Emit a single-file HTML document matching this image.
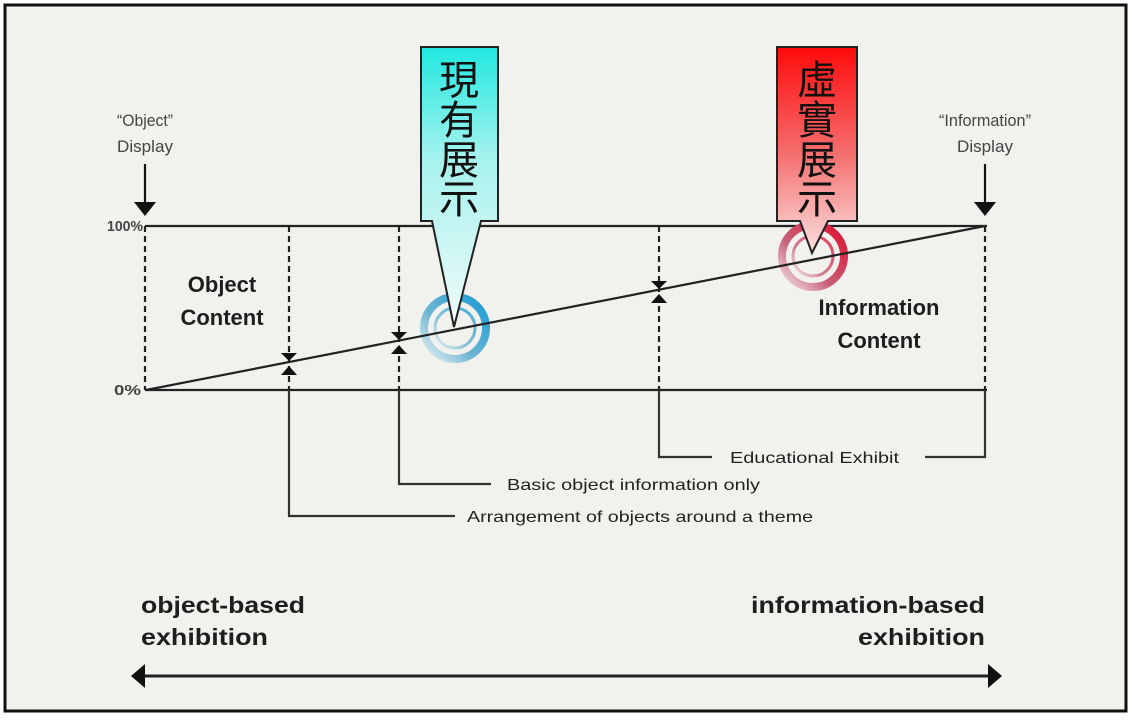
<!DOCTYPE html>
<html><head><meta charset="utf-8"><style>
html,body{margin:0;padding:0;background:#fff;}
svg{display:block;}
text{font-family:"Liberation Sans",sans-serif;}
.b{font-weight:bold;fill:#1e1e1e;}
.s{fill:#222;font-size:16px;}
.cjk{font-family:"Liberation Sans","Noto Sans CJK TC",sans-serif;font-size:40px;fill:#111;}
</style></head><body>
<svg width="1133" height="720" viewBox="0 0 1133 720" xmlns="http://www.w3.org/2000/svg">
<defs>
<linearGradient id="cy" x1="0" y1="0" x2="0" y2="1"><stop offset="0" stop-color="#20e8e0"/><stop offset="0.4" stop-color="#a6f2ee"/><stop offset="1" stop-color="#f0faf9"/></linearGradient>
<linearGradient id="rd" x1="0" y1="0" x2="0" y2="1"><stop offset="0" stop-color="#ff0a0a"/><stop offset="0.5" stop-color="#f56a6a"/><stop offset="1" stop-color="#fae0e0"/></linearGradient>
<linearGradient id="cr" x1="1" y1="0" x2="0" y2="1"><stop offset="0" stop-color="#1a9ad6"/><stop offset="0.6" stop-color="#6fb6d2"/><stop offset="1" stop-color="#e8f2f5"/></linearGradient>
<linearGradient id="rr" x1="1" y1="0" x2="0" y2="1"><stop offset="0" stop-color="#e01030"/><stop offset="0.6" stop-color="#c8607a"/><stop offset="1" stop-color="#f4e4e8"/></linearGradient>
</defs>
<rect x="0" y="0" width="1133" height="720" fill="#fff"/>
<rect x="5" y="5" width="1121" height="706" fill="#f1f2ed" stroke="#111" stroke-width="3"/>

<g stroke="#222" stroke-width="2.2" fill="none">
<line x1="145" y1="226" x2="987" y2="226"/>
<line x1="145" y1="390" x2="987" y2="390"/>
</g>
<g stroke="#222" stroke-width="2.2" stroke-dasharray="6,4" fill="none">
<line x1="145" y1="226" x2="145" y2="390"/>
<line x1="289" y1="226" x2="289" y2="390"/>
<line x1="399" y1="226" x2="399" y2="390"/>
<line x1="659" y1="226" x2="659" y2="390"/>
<line x1="985" y1="226" x2="985" y2="390"/>
</g>
<g fill="#111">
<polygon points="281,353 297,353 289,361"/><polygon points="281,375 297,375 289,366"/>
<polygon points="391,332 407,332 399,340"/><polygon points="391,354 407,354 399,345"/>
<polygon points="651,281 667,281 659,289"/><polygon points="651,303 667,303 659,294"/>
</g>
<g stroke="#333" stroke-width="2.2" fill="none">
<polyline points="289,390 289,516 455,516"/>
<polyline points="399,390 399,484 491,484"/>
<polyline points="659,390 659,457 712,457"/>
<polyline points="925,457 985,457 985,390"/>
</g>
<text class="s" x="467" y="522" textLength="346" lengthAdjust="spacingAndGlyphs">Arrangement of objects around a theme</text>
<text class="s" x="507" y="490" textLength="253" lengthAdjust="spacingAndGlyphs">Basic object information only</text>
<text class="s" x="730" y="463" textLength="169" lengthAdjust="spacingAndGlyphs">Educational Exhibit</text>

<text x="107" y="231" font-size="15" font-weight="bold" fill="#444" textLength="36" lengthAdjust="spacingAndGlyphs">100%</text>
<text x="114" y="395" font-size="15" font-weight="bold" fill="#444" textLength="27" lengthAdjust="spacingAndGlyphs">0%</text>
<text x="145" y="126" font-size="17" fill="#444" text-anchor="middle" textLength="56" lengthAdjust="spacingAndGlyphs">“Object”</text>
<text x="145" y="152" font-size="17" fill="#444" text-anchor="middle" textLength="56" lengthAdjust="spacingAndGlyphs">Display</text>
<text x="985" y="126" font-size="17" fill="#444" text-anchor="middle" textLength="92" lengthAdjust="spacingAndGlyphs">“Information”</text>
<text x="985" y="152" font-size="17" fill="#444" text-anchor="middle" textLength="56" lengthAdjust="spacingAndGlyphs">Display</text>
<line x1="145" y1="164" x2="145" y2="202" stroke="#111" stroke-width="2.2"/>
<polygon points="134,202 156,202 145,216" fill="#111"/>
<line x1="985" y1="164" x2="985" y2="202" stroke="#111" stroke-width="2.2"/>
<polygon points="974,202 996,202 985,216" fill="#111"/>

<text class="b" x="222" y="292" font-size="22" text-anchor="middle">Object</text>
<text class="b" x="222" y="325" font-size="22" text-anchor="middle">Content</text>
<text class="b" x="879" y="315" font-size="22" text-anchor="middle">Information</text>
<text class="b" x="879" y="348" font-size="22" text-anchor="middle">Content</text>

<g fill="none">
<circle cx="455" cy="328" r="31" stroke="url(#cr)" stroke-width="8"/>
<circle cx="455" cy="328" r="20" stroke="url(#cr)" stroke-width="3" opacity="0.8"/>
<circle cx="813" cy="256" r="31" stroke="url(#rr)" stroke-width="8"/>
<circle cx="813" cy="256" r="20" stroke="url(#rr)" stroke-width="3" opacity="0.8"/>
</g>
<line x1="146" y1="390" x2="985" y2="226" stroke="#222" stroke-width="2.2"/>

<path d="M421,47 H498 V221 H481 L454,327 L432,221 H421 Z" fill="url(#cy)" stroke="#222" stroke-width="2"/>
<text class="cjk" x="459" y="94" text-anchor="middle">現</text>
<text class="cjk" x="459" y="134" text-anchor="middle">有</text>
<text class="cjk" x="459" y="174" text-anchor="middle">展</text>
<text class="cjk" x="459" y="213" text-anchor="middle">示</text>
<path d="M777,47 H857 V221 H828 L812,253 L800,221 H777 Z" fill="url(#rd)" stroke="#222" stroke-width="2"/>
<text class="cjk" x="817" y="94" text-anchor="middle">虛</text>
<text class="cjk" x="817" y="134" text-anchor="middle">實</text>
<text class="cjk" x="817" y="174" text-anchor="middle">展</text>
<text class="cjk" x="817" y="213" text-anchor="middle">示</text>

<text class="b" x="141" y="613" font-size="23" textLength="164" lengthAdjust="spacingAndGlyphs">object-based</text>
<text class="b" x="141" y="645" font-size="23" textLength="127" lengthAdjust="spacingAndGlyphs">exhibition</text>
<text class="b" x="985" y="613" font-size="23" text-anchor="end" textLength="234" lengthAdjust="spacingAndGlyphs">information-based</text>
<text class="b" x="985" y="645" font-size="23" text-anchor="end" textLength="127" lengthAdjust="spacingAndGlyphs">exhibition</text>
<line x1="140" y1="676" x2="992" y2="676" stroke="#222" stroke-width="3"/>
<polygon points="131,676 145,664 145,688" fill="#111"/>
<polygon points="1002,676 988,664 988,688" fill="#111"/>
</svg>
</body></html>
